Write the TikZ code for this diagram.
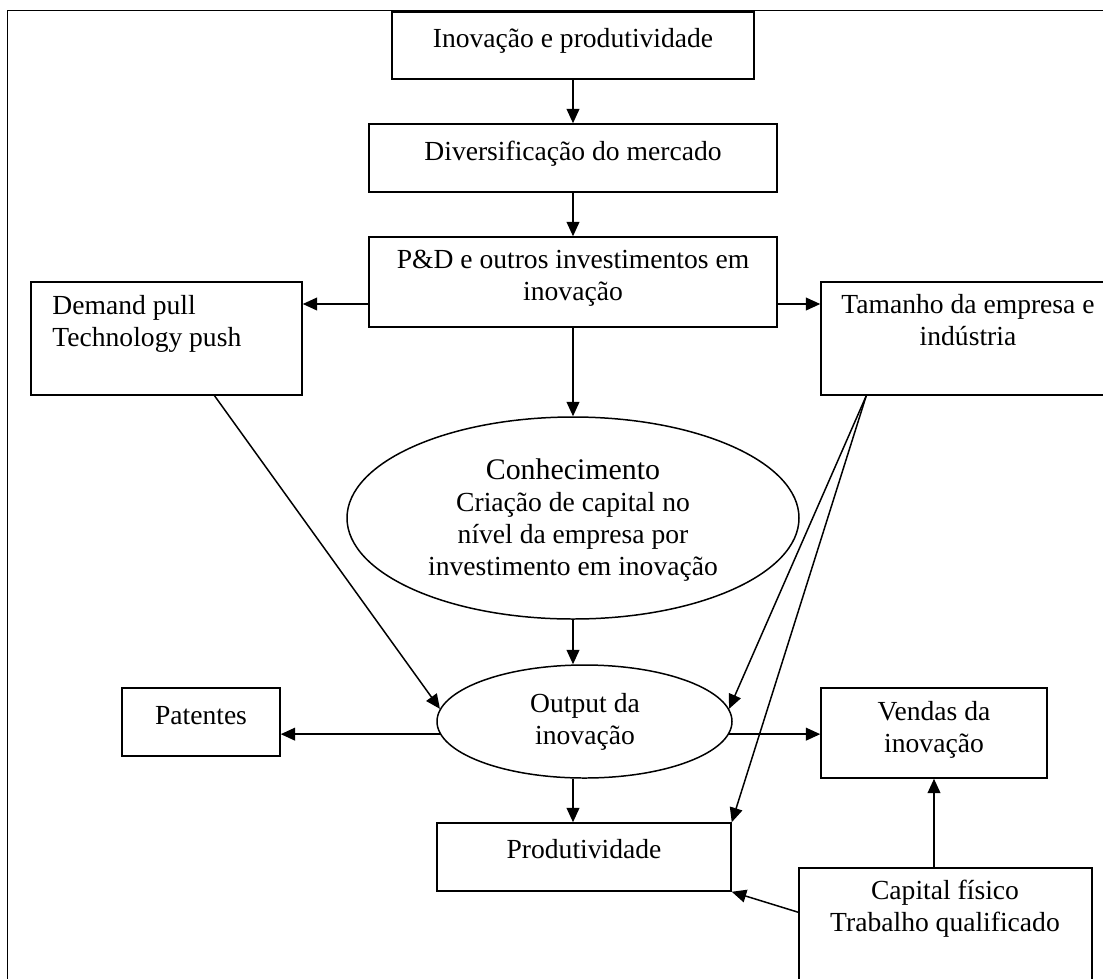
\documentclass[tikz,border=0pt]{standalone}
\usepackage{fontspec}
\setmainfont{Liberation Serif}
\usetikzlibrary{shapes.geometric,arrows.meta,calc}
\newlength\px
\setlength\px{0.435pt}
\begin{document}
\begin{tikzpicture}[x=1\px,y=-1\px,
  box/.style={draw,line width=0.65pt,inner sep=0pt},
  oval/.style={draw,ellipse,line width=0.65pt,inner sep=0pt},
  txt/.style={inner sep=0pt,align=center,anchor=north,font=\fontsize{12}{13.9}\selectfont,execute at begin node=\strut},
  arr/.style={-{Triangle[length=6.3pt,width=5.6pt]},line width=0.65pt}]
\useasboundingbox (0,0) rectangle (1103,978);
\clip (0,0) rectangle (1103,978);
\draw[line width=0.65pt] (7.5,1000) -- (7.5,10.5) -- (1120,10.5);
\node[box,minimum width=362\px,minimum height=67\px] (inov) at (573,45.5) {};
\node[box,minimum width=408\px,minimum height=68\px] (div) at (573,158) {};
\node[box,minimum width=408\px,minimum height=90\px] (pd) at (573,282) {};
\node[box,minimum width=271\px,minimum height=113\px] (dem) at (166.5,338.5) {};
\node[box,minimum width=294\px,minimum height=113\px] (tam) at (968,338.5) {};
\node[oval,minimum width=452\px,minimum height=202\px] (con) at (573,518) {};
\node[oval,minimum width=295\px,minimum height=113\px] (out) at (584.5,721.5) {};
\node[box,minimum width=158\px,minimum height=68\px] (pat) at (201,722) {};
\node[box,minimum width=226\px,minimum height=90\px] (ven) at (934,733) {};
\node[box,minimum width=294\px,minimum height=68\px] (prod) at (584,857) {};
\node[box,minimum width=293\px,minimum height=132\px] (cap) at (945.5,934) {};
\node[txt] (t-inov) at (573,24.6) {Inovação e produtividade};
\node[txt] (t-div) at (573,137.6) {Diversificação do mercado};
\node[txt] (t-pd) at (573,249.6) {P\&D e outros investimentos em\\inovação};
\node[txt,anchor=north west,align=left] (t-dem) at (52,294.6) {Demand pull\\Technology push};
\node[txt] (t-tam) at (968,293.6) {Tamanho da empresa e\\indústria};
\node[txt] (t-con) at (573,458.6) {{\fontsize{13}{13.9}\selectfont Conhecimento}\\Criação de capital no\\nível da empresa por\\investimento em inovação};
\node[txt] (t-out) at (585,692.6) {Output da\\inovação};
\node[txt] (t-pat) at (201,701.6) {Patentes};
\node[txt] (t-ven) at (934,700.6) {Vendas da\\inovação};
\node[txt] (t-prod) at (584,835.6) {Produtividade};
\node[txt] (t-cap) at (945,879.6) {Capital físico\\Trabalho qualificado};
\draw[arr] (inov) -- (div);
\draw[arr] (div) -- (pd);
\draw[arr] ($(pd.west)+(0,22)$) coordinate (pdl) -- (pdl -| dem.east);
\draw[arr] ($(pd.east)+(0,22)$) coordinate (pdr) -- (pdr -| tam.west);
\draw[arr] (pd) -- (con);
\draw[arr] (dem.-50) -- (out.175);
\draw[arr] ($(tam.south west)+(46,0)$) coordinate (tf) -- (out.5);
\draw[arr] (tf) -- (prod.north east);
\draw[arr] (con.south) -- (con.south |- out.north);
\draw[arr] (out.185) -- (out.185 -| pat.east);
\draw[arr] (out.-5) -- (out.-5 -| ven.west);
\draw[arr] (out.south -| con.south) -- (prod.north -| con.south);
\draw[arr] (ven.south |- cap.north) -- (ven.south);
\draw[arr] ($(cap.north west)+(0,45)$) -- (prod.south east);
\end{tikzpicture}
\end{document}
